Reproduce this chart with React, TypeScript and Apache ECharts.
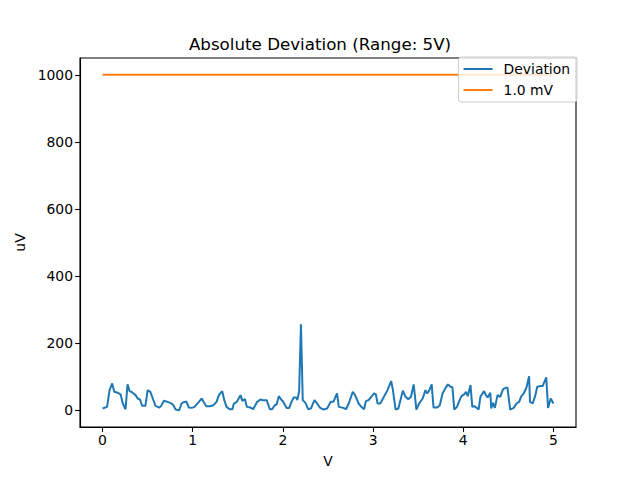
import React, { useEffect, useRef } from "react";
import * as echarts from "echarts";

const xValues = [
  0, 0.05, 0.078, 0.107, 0.13, 0.16, 0.2, 0.225, 0.255, 0.277, 0.3, 0.33, 0.366, 0.39, 0.415, 0.44, 0.475,
  0.5, 0.53, 0.557, 0.587, 0.63, 0.65, 0.68, 0.72, 0.75, 0.78, 0.81, 0.85, 0.876, 0.9, 0.93, 0.957, 0.99,
  1.02, 1.068, 1.1, 1.12, 1.15, 1.19, 1.23, 1.264, 1.29, 1.327, 1.35, 1.375, 1.41, 1.44, 1.456, 1.49,
  1.53, 1.55, 1.58, 1.6, 1.64, 1.67, 1.715, 1.75, 1.78, 1.82, 1.855, 1.88, 1.91, 1.93, 1.955, 1.98,
  2.0, 2.04, 2.07, 2.095, 2.12, 2.15, 2.16, 2.18, 2.2, 2.22, 2.25, 2.28, 2.31, 2.35, 2.38, 2.41, 2.45, 2.49,
  2.52, 2.53, 2.56, 2.6, 2.62, 2.67, 2.7, 2.73, 2.775, 2.8, 2.84, 2.87, 2.9, 2.92, 2.95, 2.98,
  3.01, 3.03, 3.05, 3.08, 3.12, 3.16, 3.2, 3.22, 3.25, 3.28, 3.33, 3.36, 3.39, 3.42, 3.45, 3.48,
  3.51, 3.55, 3.58, 3.6, 3.62, 3.65, 3.67, 3.71, 3.74, 3.77, 3.8, 3.83, 3.86, 3.88, 3.9, 3.93, 3.96, 3.98,
  4.01, 4.03, 4.05, 4.08, 4.1, 4.12, 4.15, 4.17, 4.19, 4.23, 4.25, 4.27, 4.3, 4.31, 4.33, 4.35, 4.38,
  4.41, 4.44, 4.47, 4.49, 4.52, 4.56, 4.59, 4.62, 4.64, 4.67, 4.7, 4.73, 4.74, 4.77, 4.8, 4.82, 4.86,
  4.88, 4.92, 4.94, 4.97, 5.0,
];

const deviation = [
  5, 10, 60, 80, 55, 53, 47, 20, 3, 77, 57, 53, 45, 35, 32, 13, 13,
  60, 55, 35, 13, 8, 13, 28, 25, 22, 17, 2, 0, 20, 24, 26, 8, 7,
  10, 25, 35, 25, 12, 12, 15, 25, 45, 57, 30, 10, 3, 3, 20, 25,
  45, 28, 33, 10, 8, 3, 25, 32, 30, 30, 3, 3, 15, 17, 42, 32,
  27, 7, 7, 25, 38, 38, 30, 57, 256, 30, 22, 3, 5, 30, 20, 8, 2, 5,
  20, 25, 25, 50, 10, 7, 3, 20, 55, 45, 20, 10, 3, 27, 30, 40,
  50, 48, 20, 20, 40, 60, 87, 60, 2, 5, 58, 40, 33, 40, 77, 2,
  20, 35, 60, 50, 58, 77, 8, 8, 15, 50, 65, 77, 70, 68, 2, 10, 30, 42,
  47, 55, 42, 75, 10, 12, 7, 2, 40, 57, 45, 38, 52, 5, 22, 7, 45,
  40, 62, 67, 67, 2, 7, 20, 25, 40, 50, 67, 101, 25, 20, 45, 70, 72,
  72, 98, 7, 35, 20,
];

const thresholdX = [0, 5];
const thresholdY = [1000, 1000];

const xTicks = [0, 1, 2, 3, 4, 5];
const yTicks = [0, 200, 400, 600, 800, 1000];

const FONT = "DejaVu Sans";

export default function App() {
  const ref = useRef<HTMLDivElement>(null);
  useEffect(() => {
    if (!ref.current) return;
    const chart = echarts.init(ref.current, undefined, { renderer: "svg" });
    chart.setOption({
      animation: false,
      backgroundColor: "#ffffff",
      textStyle: { fontFamily: FONT },
      title: {
        text: "Absolute Deviation (Range: 5V)",
        left: "center",
        top: 30,
        textStyle: { fontFamily: FONT, fontSize: 16.7, fontWeight: "normal", color: "#000" },
      },
      legend: {
        orient: "vertical",
        right: 63,
        top: 57,
        align: "left",
        icon: "rect",
        itemWidth: 29,
        itemHeight: 2,
        itemGap: 5,
        padding: [4, 7, 4, 5],
        backgroundColor: "rgba(255,255,255,0.8)",
        borderColor: "#cccccc",
        borderWidth: 1,
        borderRadius: 3,
        textStyle: { fontFamily: FONT, fontSize: 13.9, color: "#000", padding: [0, 0, 0, 6], lineHeight: 16 },
        data: ["Deviation", "1.0 mV"],
      },
      grid: {
        left: 80,
        right: 64,
        top: 58,
        bottom: 53,
        show: true,
        borderColor: "#000",
        borderWidth: 1.1,
        backgroundColor: "transparent",
      },
      xAxis: {
        type: "value",
        min: -0.25,
        max: 5.25,
        name: "V",
        nameLocation: "middle",
        nameGap: 27,
        nameTextStyle: { fontFamily: FONT, fontSize: 13.9, color: "#000" },
        axisLine: { show: true, onZero: false, lineStyle: { color: "#000", width: 1.1 } },
        axisTick: { show: true, length: 4.9, customValues: xTicks, lineStyle: { color: "#000", width: 1.1 } },
        axisLabel: {
          customValues: xTicks,
          formatter: (v: number) => String(v),
          fontFamily: FONT,
          fontSize: 13.9,
          color: "#000",
          margin: 6,
        },
        splitLine: { show: false },
      },
      yAxis: {
        type: "value",
        min: -50,
        max: 1050,
        name: "uV",
        nameLocation: "middle",
        nameGap: 50,
        nameRotate: 90,
        nameTextStyle: { fontFamily: FONT, fontSize: 13.9, color: "#000" },
        axisLine: { show: true, onZero: false, lineStyle: { color: "#000", width: 1.1 } },
        axisTick: { show: true, length: 4.9, customValues: yTicks, lineStyle: { color: "#000", width: 1.1 } },
        axisLabel: {
          customValues: yTicks,
          formatter: (v: number) => String(v),
          fontFamily: FONT,
          fontSize: 13.9,
          color: "#000",
          margin: 7,
        },
        splitLine: { show: false },
      },
      series: [
        {
          name: "Deviation",
          type: "line",
          symbol: "none",
          data: xValues.map((x, i) => [x, deviation[i]]),
          lineStyle: { color: "#1f77b4", width: 2 },
          itemStyle: { color: "#1f77b4" },
        },
        {
          name: "1.0 mV",
          type: "line",
          symbol: "none",
          data: thresholdX.map((x, i) => [x, thresholdY[i]]),
          lineStyle: { color: "#ff7f0e", width: 2 },
          itemStyle: { color: "#ff7f0e" },
        },
      ],
    });
    return () => chart.dispose();
  }, []);
  return <div ref={ref} style={{ position: "fixed", left: 0, top: 0, width: 640, height: 480 }} />;
}
